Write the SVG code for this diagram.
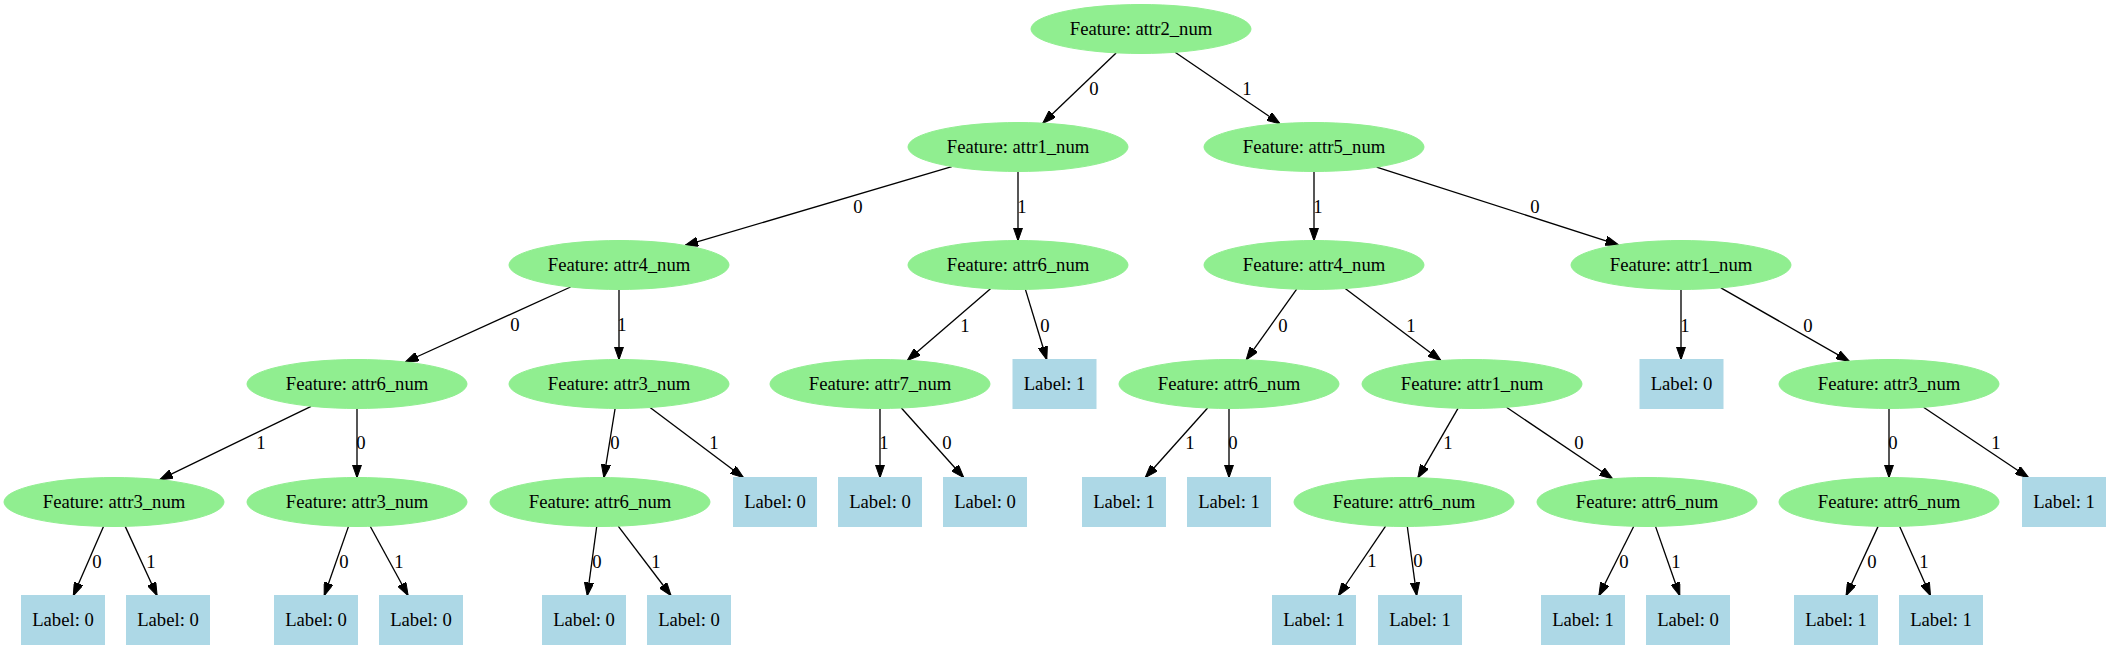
<svg xmlns="http://www.w3.org/2000/svg" width="2110" height="649" viewBox="0 0 2110 649">
<style>
.f ellipse{fill:#90EE90;stroke:#90EE90}
.l rect{fill:#ADD8E6;stroke:#ADD8E6}
text{font-family:"Liberation Serif","Times New Roman",serif;font-size:18.67px;fill:#000;text-anchor:middle}
#connectors line{stroke:#000;stroke-width:1.33;fill:none;marker-end:url(#arr)}
</style>
<defs>
<marker id="arr" markerUnits="userSpaceOnUse" viewBox="0 0 13.33 9.33" markerWidth="13.33" markerHeight="9.33" refX="13" refY="4.665" orient="auto">
<path d="M0,0 L13.33,4.665 L0,9.33 z" fill="#000" stroke="#000" stroke-width="1"/>
</marker>
</defs>
<rect width="2110" height="649" fill="#fff"/>
<g id="connectors">
<line x1="1116.1" y1="52.9" x2="1042.9" y2="123.1"/><text x="1094" y="95">0</text>
<line x1="1175.1" y1="52.3" x2="1279.9" y2="123.7"/><text x="1247" y="95">1</text>
<line x1="951.8" y1="166.6" x2="685.2" y2="245.4"/><text x="858" y="213">0</text>
<line x1="1018" y1="171.5" x2="1018" y2="240.5"/><text x="1022" y="213">1</text>
<line x1="1314" y1="171.5" x2="1314" y2="240.5"/><text x="1318" y="213">1</text>
<line x1="1376.6" y1="167.1" x2="1618.4" y2="244.9"/><text x="1535" y="213">0</text>
<line x1="570.6" y1="287" x2="405.4" y2="362"/><text x="515" y="331">0</text>
<line x1="619" y1="289.5" x2="619" y2="359.5"/><text x="622" y="331">1</text>
<line x1="990.5" y1="288.7" x2="907.5" y2="360.3"/><text x="965" y="332">1</text>
<line x1="1025.4" y1="289.4" x2="1046.7" y2="359.5"/><text x="1045" y="332">0</text>
<line x1="1296.7" y1="289.2" x2="1246.3" y2="359.8"/><text x="1283" y="332">0</text>
<line x1="1345.2" y1="288.5" x2="1440.8" y2="360.5"/><text x="1411" y="332">1</text>
<line x1="1681" y1="289.5" x2="1681" y2="359.5"/><text x="1685" y="332">1</text>
<line x1="1720.9" y1="287.8" x2="1849.1" y2="361.2"/><text x="1808" y="332">0</text>
<line x1="311.1" y1="406.3" x2="159.9" y2="479.7"/><text x="261" y="449">1</text>
<line x1="357" y1="408.5" x2="357" y2="477.5"/><text x="361" y="449">0</text>
<line x1="615.1" y1="408.5" x2="603.9" y2="477.5"/><text x="615" y="449">0</text>
<line x1="650.1" y1="407.5" x2="743.3" y2="477.5"/><text x="714" y="449">1</text>
<line x1="880" y1="408.5" x2="880" y2="477.5"/><text x="884" y="449">1</text>
<line x1="901.4" y1="408" x2="963.6" y2="477.5"/><text x="947" y="449">0</text>
<line x1="1207.6" y1="408" x2="1145.4" y2="477.5"/><text x="1190" y="449">1</text>
<line x1="1229" y1="408.5" x2="1229" y2="477.5"/><text x="1233" y="449">0</text>
<line x1="1458" y1="408.3" x2="1418" y2="477.7"/><text x="1448" y="449">1</text>
<line x1="1506.5" y1="407.3" x2="1612.5" y2="478.7"/><text x="1579" y="449">0</text>
<line x1="1889" y1="408.5" x2="1889" y2="477.5"/><text x="1893" y="449">0</text>
<line x1="1923.5" y1="407.3" x2="2028.4" y2="477.5"/><text x="1996" y="449">1</text>
<line x1="103.5" y1="526.4" x2="73.4" y2="595.5"/><text x="97" y="568">0</text>
<line x1="125.2" y1="526.4" x2="157" y2="595.5"/><text x="151" y="568">1</text>
<line x1="348.5" y1="526.4" x2="324.3" y2="595.5"/><text x="344" y="568">0</text>
<line x1="370.2" y1="526.3" x2="408" y2="595.5"/><text x="399" y="568">1</text>
<line x1="596.7" y1="526.5" x2="587.3" y2="595.5"/><text x="597" y="568">0</text>
<line x1="618.2" y1="526.2" x2="670.9" y2="595.5"/><text x="656" y="568">1</text>
<line x1="1385.6" y1="526.2" x2="1338.5" y2="595.5"/><text x="1372" y="567">1</text>
<line x1="1407.3" y1="526.5" x2="1416.7" y2="595.5"/><text x="1418" y="567">0</text>
<line x1="1633.8" y1="526.3" x2="1599" y2="595.5"/><text x="1624" y="568">0</text>
<line x1="1655.5" y1="526.4" x2="1679.7" y2="595.5"/><text x="1676" y="568">1</text>
<line x1="1878.1" y1="526.4" x2="1846.2" y2="595.5"/><text x="1872" y="568">0</text>
<line x1="1899.7" y1="526.4" x2="1930.4" y2="595.5"/><text x="1924" y="568">1</text>
</g>
<g id="n0" class="f"><ellipse cx="1141" cy="29" rx="110" ry="24.5"/><text x="1141" y="35">Feature: attr2_num</text></g>
<g id="n1" class="f"><ellipse cx="1018" cy="147" rx="110" ry="24.5"/><text x="1018" y="153">Feature: attr1_num</text></g>
<g id="n2" class="f"><ellipse cx="1314" cy="147" rx="110" ry="24.5"/><text x="1314" y="153">Feature: attr5_num</text></g>
<g id="n3" class="f"><ellipse cx="619" cy="265" rx="110" ry="24.5"/><text x="619" y="271">Feature: attr4_num</text></g>
<g id="n4" class="f"><ellipse cx="1018" cy="265" rx="110" ry="24.5"/><text x="1018" y="271">Feature: attr6_num</text></g>
<g id="n5" class="f"><ellipse cx="1314" cy="265" rx="110" ry="24.5"/><text x="1314" y="271">Feature: attr4_num</text></g>
<g id="n6" class="f"><ellipse cx="1681" cy="265" rx="110" ry="24.5"/><text x="1681" y="271">Feature: attr1_num</text></g>
<g id="n7" class="f"><ellipse cx="357" cy="384" rx="110" ry="24.5"/><text x="357" y="390">Feature: attr6_num</text></g>
<g id="n8" class="f"><ellipse cx="619" cy="384" rx="110" ry="24.5"/><text x="619" y="390">Feature: attr3_num</text></g>
<g id="n9" class="f"><ellipse cx="880" cy="384" rx="110" ry="24.5"/><text x="880" y="390">Feature: attr7_num</text></g>
<g id="n10" class="l"><rect x="1013" y="359.5" width="83" height="49"/><text x="1054.5" y="390">Label: 1</text></g>
<g id="n11" class="f"><ellipse cx="1229" cy="384" rx="110" ry="24.5"/><text x="1229" y="390">Feature: attr6_num</text></g>
<g id="n12" class="f"><ellipse cx="1472" cy="384" rx="110" ry="24.5"/><text x="1472" y="390">Feature: attr1_num</text></g>
<g id="n13" class="l"><rect x="1640" y="359.5" width="83" height="49"/><text x="1681.5" y="390">Label: 0</text></g>
<g id="n14" class="f"><ellipse cx="1889" cy="384" rx="110" ry="24.5"/><text x="1889" y="390">Feature: attr3_num</text></g>
<g id="n15" class="f"><ellipse cx="114" cy="502" rx="110" ry="24.5"/><text x="114" y="508">Feature: attr3_num</text></g>
<g id="n16" class="f"><ellipse cx="357" cy="502" rx="110" ry="24.5"/><text x="357" y="508">Feature: attr3_num</text></g>
<g id="n17" class="f"><ellipse cx="600" cy="502" rx="110" ry="24.5"/><text x="600" y="508">Feature: attr6_num</text></g>
<g id="n18" class="l"><rect x="733.5" y="477.5" width="83" height="49"/><text x="775" y="508">Label: 0</text></g>
<g id="n19" class="l"><rect x="838.5" y="477.5" width="83" height="49"/><text x="880" y="508">Label: 0</text></g>
<g id="n20" class="l"><rect x="943.5" y="477.5" width="83" height="49"/><text x="985" y="508">Label: 0</text></g>
<g id="n21" class="l"><rect x="1082.5" y="477.5" width="83" height="49"/><text x="1124" y="508">Label: 1</text></g>
<g id="n22" class="l"><rect x="1187.5" y="477.5" width="83" height="49"/><text x="1229" y="508">Label: 1</text></g>
<g id="n23" class="f"><ellipse cx="1404" cy="502" rx="110" ry="24.5"/><text x="1404" y="508">Feature: attr6_num</text></g>
<g id="n24" class="f"><ellipse cx="1647" cy="502" rx="110" ry="24.5"/><text x="1647" y="508">Feature: attr6_num</text></g>
<g id="n25" class="f"><ellipse cx="1889" cy="502" rx="110" ry="24.5"/><text x="1889" y="508">Feature: attr6_num</text></g>
<g id="n26" class="l"><rect x="2022.5" y="477.5" width="83" height="49"/><text x="2064" y="508">Label: 1</text></g>
<g id="n27" class="l"><rect x="21.5" y="595.5" width="83" height="49"/><text x="63" y="626">Label: 0</text></g>
<g id="n28" class="l"><rect x="126.5" y="595.5" width="83" height="49"/><text x="168" y="626">Label: 0</text></g>
<g id="n29" class="l"><rect x="274.5" y="595.5" width="83" height="49"/><text x="316" y="626">Label: 0</text></g>
<g id="n30" class="l"><rect x="379.5" y="595.5" width="83" height="49"/><text x="421" y="626">Label: 0</text></g>
<g id="n31" class="l"><rect x="542.5" y="595.5" width="83" height="49"/><text x="584" y="626">Label: 0</text></g>
<g id="n32" class="l"><rect x="647.5" y="595.5" width="83" height="49"/><text x="689" y="626">Label: 0</text></g>
<g id="n33" class="l"><rect x="1272.5" y="595.5" width="83" height="49"/><text x="1314" y="626">Label: 1</text></g>
<g id="n34" class="l"><rect x="1378.5" y="595.5" width="83" height="49"/><text x="1420" y="626">Label: 1</text></g>
<g id="n35" class="l"><rect x="1541.5" y="595.5" width="83" height="49"/><text x="1583" y="626">Label: 1</text></g>
<g id="n36" class="l"><rect x="1646.5" y="595.5" width="83" height="49"/><text x="1688" y="626">Label: 0</text></g>
<g id="n37" class="l"><rect x="1794.5" y="595.5" width="83" height="49"/><text x="1836" y="626">Label: 1</text></g>
<g id="n38" class="l"><rect x="1899.5" y="595.5" width="83" height="49"/><text x="1941" y="626">Label: 1</text></g>
</svg>
